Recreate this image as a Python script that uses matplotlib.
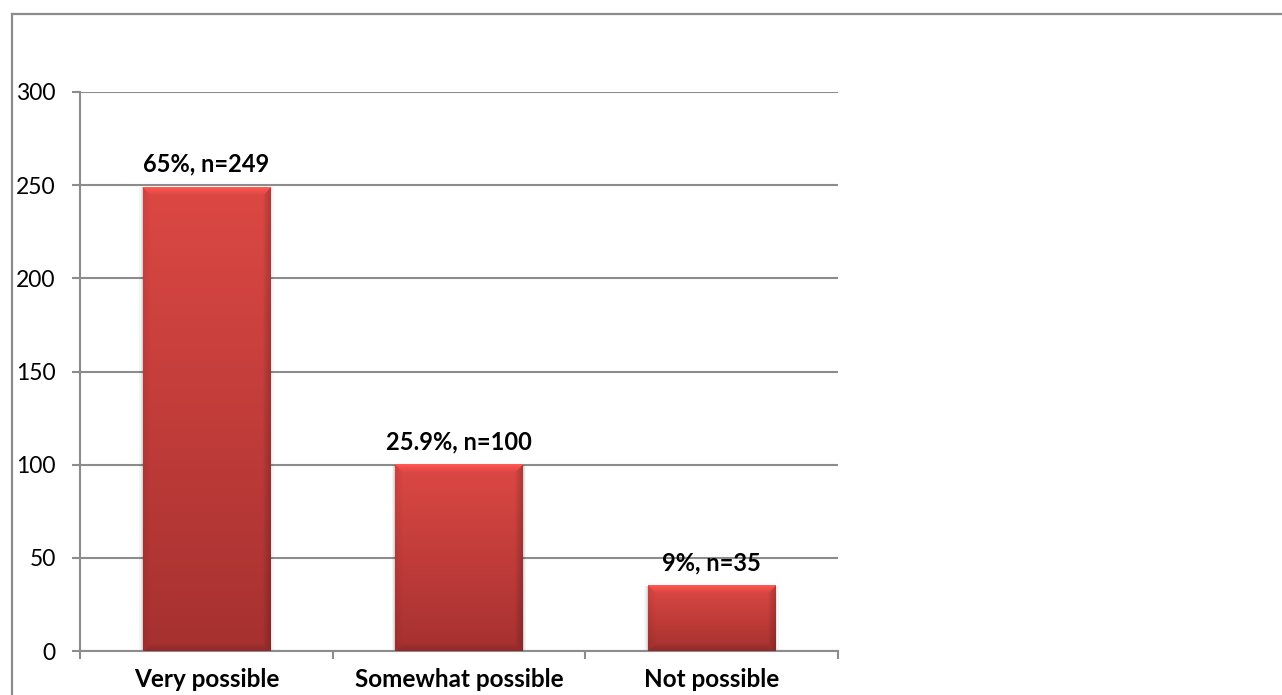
import numpy as np
import matplotlib
matplotlib.use("Agg")
import matplotlib.pyplot as plt
from matplotlib.lines import Line2D

categories = ["Very possible", "Somewhat possible", "Not possible"]
counts = [249, 100, 35]
labels = ["65%, n=249", "25.9%, n=100", "9%, n=35"]
yticks = [0, 50, 100, 150, 200, 250, 300]

plt.rcParams["font.family"] = ["Lato", "DejaVu Sans"]

W, H, DPI = 1282, 695, 100
fig = plt.figure(figsize=(W / DPI, H / DPI), dpi=DPI)
fig.patch.set_facecolor("white")

# outer chart-area frame (top and left edges visible)
fig.add_artist(Line2D([12 / W, 12 / W], [0, 1 - 14 / H], transform=fig.transFigure,
                      color="#8c8c8c", lw=1.6))
fig.add_artist(Line2D([12 / W, 1.0], [1 - 14 / H, 1 - 14 / H], transform=fig.transFigure,
                      color="#8c8c8c", lw=1.6))

ax = fig.add_axes([80 / W, 44 / H, (838 - 80) / W, (651 - 92) / H])
x = np.arange(len(categories))
bars = ax.bar(x, counts, width=0.505, color="none", edgecolor="none", zorder=3)

ax.set_xlim(-0.5, len(categories) - 0.5)
ax.set_ylim(0, 300)
ax.set_yticks(yticks)
ax.set_yticklabels([str(v) for v in yticks])
ax.yaxis.grid(True, color="#8c8c8c", lw=1.5, zorder=0)
ax.set_axisbelow(True)

for s in ("top", "right"):
    ax.spines[s].set_visible(False)
for s in ("left", "bottom"):
    ax.spines[s].set_color("#8c8c8c")
    ax.spines[s].set_linewidth(1.5)

ax.tick_params(axis="y", length=5.5, width=1.5, color="#8c8c8c", pad=12, labelsize=16.5)
ax.set_xticks(x)
ax.set_xticklabels(categories, fontsize=17.5, fontweight="bold")
ax.tick_params(axis="x", which="major", length=0, pad=12)
ax.set_xticks(np.arange(-0.5, len(categories)), minor=True)
ax.tick_params(axis="x", which="minor", length=6, width=1.5, color="#8c8c8c", direction="out")

fig.canvas.draw()


def bevel_image(wpx, hpx, bevel=8):
    yy, xx = np.mgrid[0:hpx, 0:wpx]
    t = yy / max(hpx - 1, 1)
    top = np.array([220, 72, 68]) / 255
    bot = np.array([166, 49, 48]) / 255
    img = top[None, None, :] * (1 - t[..., None]) + bot[None, None, :] * t[..., None]
    dl = xx + 0.5
    dr = wpx - xx - 0.5
    dt = yy + 0.5
    db = hpx - yy - 0.5
    d = np.stack([dt, dl, dr, db])
    which = np.argmin(d, axis=0)
    dmin = np.min(d, axis=0)
    factors = np.array([1.16, 0.93, 0.80, 0.86])
    f = factors[which]
    w = np.clip(1 - dmin / bevel, 0, 1) ** 0.8
    mult = 1 + (f - 1) * w
    img = img * mult[..., None]
    rim = (which == 0) & (dmin < 2.5)
    img[rim] = img[rim] * 1.05
    return np.clip(img, 0, 1)


inv = ax.transData
for rect, lab in zip(bars.patches, labels):
    x0, y0 = rect.get_x(), rect.get_y()
    x1, y1 = x0 + rect.get_width(), y0 + rect.get_height()
    p0 = inv.transform((x0, y0))
    p1 = inv.transform((x1, y1))
    wpx = int(round(p1[0] - p0[0]))
    hpx = int(round(p1[1] - p0[1]))
    # soft shadow on the sides
    for k, a in ((3.5, 0.04), (2.0, 0.06), (1.0, 0.08)):
        dx = (x1 - x0) * k / wpx
        ax.add_patch(plt.Rectangle((x0 - dx, y0), (x1 - x0) + 2 * dx, (y1 - y0),
                                   color="black", alpha=a, lw=0, zorder=2))
    ax.imshow(bevel_image(wpx, hpx), extent=(x0, x1, y0, y1), aspect="auto",
              interpolation="bilinear", zorder=3)
    ax.annotate(lab, (rect.get_x() + rect.get_width() / 2, y1), xytext=(0, 8),
                textcoords="offset points", ha="center", va="bottom",
                fontsize=17, fontweight="bold", color="black", zorder=4)

ax.set_xlim(-0.5, len(categories) - 0.5)
ax.set_ylim(0, 300)

fig.savefig("out.png", dpi=DPI, facecolor="white")
